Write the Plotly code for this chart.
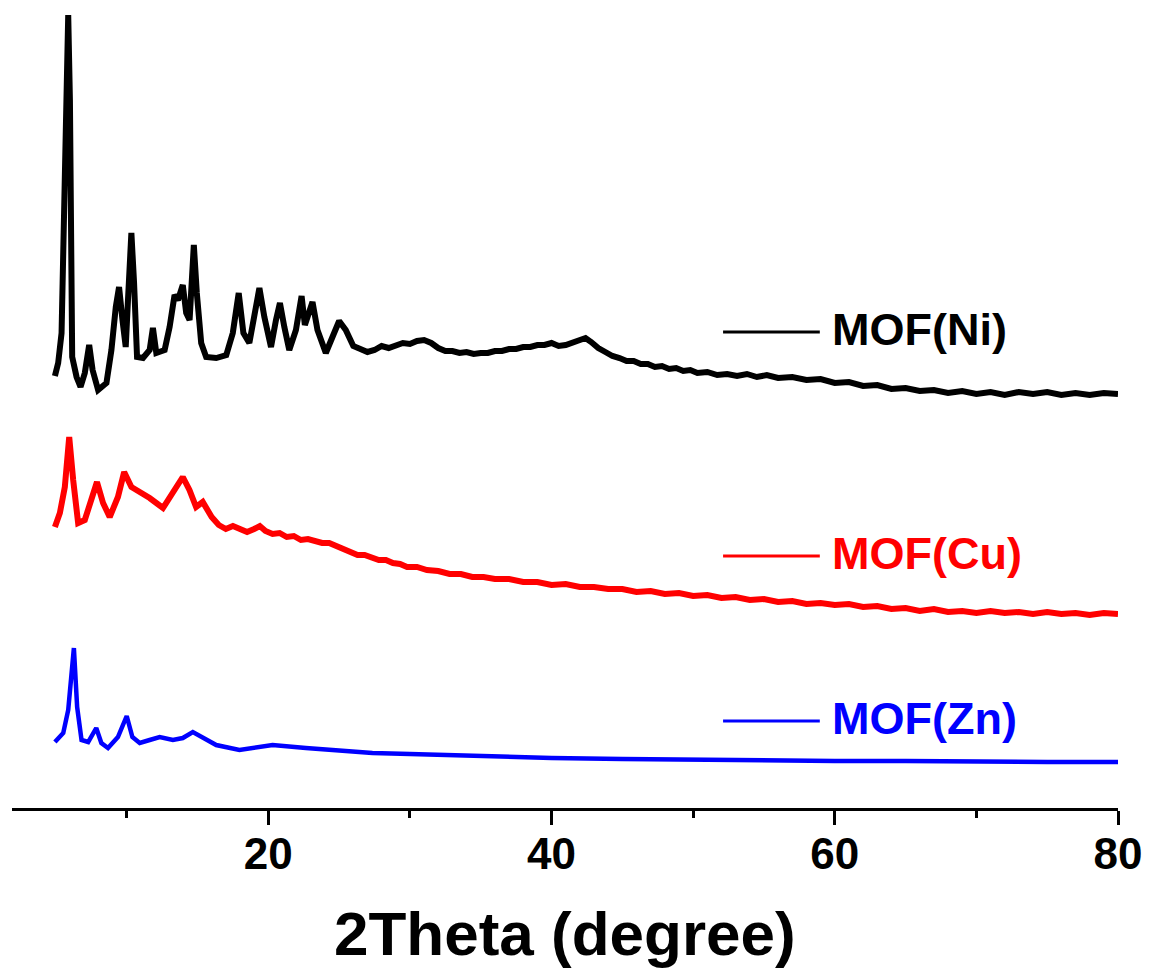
import plotly.graph_objects as go

# 2Theta (degree) and intensity (a.u., stacked for display)
ni_theta = [4.93, 5.16, 5.40, 5.51, 5.63, 5.75, 5.87, 5.99, 6.11, 6.15, 6.46, 6.74, 7.04, 7.35, 7.59, 7.98,
            8.57, 8.92, 9.23, 9.46, 9.70, 9.93, 10.09, 10.33, 10.52, 10.73, 11.15, 11.62, 11.85, 12.09,
            12.68, 13.03, 13.38, 13.62, 13.96, 14.20, 14.44, 14.74, 14.95, 15.26, 15.61, 16.32, 17.03,
            17.49, 17.91, 18.24, 18.66, 19.01, 19.37, 19.72, 20.19, 20.54, 20.82, 21.13, 21.48, 21.95,
            22.35, 22.58, 23.12, 23.47, 24.06, 24.53, 25.00, 25.47,
            26.0, 26.5, 27.0, 27.5, 28.0, 28.5, 29.0, 29.5, 30.0, 30.5, 31.0, 31.5, 32.0, 32.5, 33.0,
            33.5, 34.0, 34.5, 35.0, 35.5, 36.0, 36.5, 37.0, 37.5, 38.0, 38.5, 39.0, 39.5, 40.0, 40.5,
            41.0, 41.5, 42.0, 42.4, 42.8, 43.3, 43.8, 44.3, 44.8, 45.3, 45.8, 46.3, 46.8, 47.3, 47.8,
            48.3, 48.8, 49.3, 49.8, 50.3, 51.0, 51.7, 52.4, 53.1, 53.8, 54.5, 55.2, 56, 57, 58, 59, 60,
            61, 62, 63, 64, 65, 66, 67, 68, 69, 70, 71, 72, 73, 74, 75, 76, 77, 78, 79, 80]
ni_int = [432, 445, 475, 568, 645, 725, 793, 708, 545, 451, 431, 421, 435, 463, 438, 418,
          425, 458, 501, 521, 488, 461, 508, 575, 525, 451, 450, 458, 480, 455,
          458, 481, 513, 508, 523, 495, 488, 563, 515, 465, 451, 450, 453,
          475, 515, 475, 465, 495, 520, 491, 461, 488, 505, 481, 458, 478,
          512, 483, 506, 478, 455, 471, 487, 478,
          462, 459, 456, 458, 462, 460, 462, 465, 464, 467, 468, 465, 460, 457, 457,
          455, 456, 454, 455, 455, 457, 457, 459, 459, 461, 461, 463, 463, 465, 462,
          463, 465, 468, 470, 466, 460, 456, 452, 450, 447, 447, 444, 444, 441, 442,
          439, 440, 437, 438, 435, 436, 433, 434, 432, 434, 431, 433, 430, 431, 428, 429, 425,
          426, 422, 423, 419, 420, 417, 418, 415, 417, 414, 416, 413, 416, 414, 416, 413, 415, 413, 415, 414]

cu_theta = [4.93, 5.28, 5.63, 5.94, 6.22, 6.57, 7.04, 7.51, 7.90, 8.33, 8.80, 9.38, 9.82, 10.33, 10.92,
            11.62, 12.56, 13.26, 13.96, 14.43, 14.90, 15.37,
            16.0, 16.5, 17.0, 17.5, 18.0, 18.5, 19.0, 19.4, 19.8, 20.3, 20.8, 21.3, 21.8, 22.3, 22.8,
            23.3, 23.8, 24.3, 24.8, 25.3, 25.8, 26.3, 26.8, 27.3, 27.8, 28.3, 28.8, 29.3, 29.8, 30.5,
            31.2, 32.0, 32.8, 33.6, 34.4, 35.2, 36.0, 37, 38, 39, 40, 41, 42, 43, 44, 45, 46, 47, 48,
            49, 50, 51, 52, 53, 54, 55, 56, 57, 58, 59, 60, 61, 62, 63, 64, 65, 66, 67, 68, 69, 70,
            71, 72, 73, 74, 75, 76, 77, 78, 79, 80]
cu_int = [281, 295, 321, 371, 328, 285, 288, 308, 326, 305, 291, 311, 336, 321, 316,
          310, 300, 315, 331, 318, 301, 306,
          291, 283, 279, 282, 279, 276, 279, 282, 277, 274, 275, 271, 272, 268, 269,
          267, 265, 265, 262, 259, 256, 253, 253, 250, 248, 248, 245, 244, 241, 241,
          238, 237, 234, 234, 231, 231, 229, 229, 226, 226, 223, 224, 221, 221, 219, 219, 216, 217, 214,
          215, 212, 213, 210, 211, 208, 209, 206, 207, 204, 205, 203, 204, 201, 202, 199, 200, 197, 199, 196, 197, 195,
          197, 195, 196, 194, 196, 194, 195, 193, 195, 194]

zn_theta = [4.93, 5.52, 5.87, 6.27, 6.50, 6.81, 7.28, 7.85, 8.21, 8.68, 9.38, 10.00, 10.40, 10.92,
            11.62, 12.33, 13.26, 13.96, 14.67, 15.37, 16.32, 17.96, 20.30, 22.65, 25.00, 27.35, 30.0,
            32.00, 36.0, 40.00, 45.0, 50.00, 55.0, 60.00, 65.0, 70.0, 75.0, 80.00]
zn_int = [66, 75, 98, 160, 101, 68, 66, 80, 65, 60, 71, 92, 71, 65,
          68, 71, 68, 70, 76, 71, 63, 58, 63, 60, 58, 55, 54,
          53, 51, 50, 49, 48, 48, 47, 47, 46, 46, 46]

names = ["MOF(Ni)", "MOF(Cu)", "MOF(Zn)"]
colors = ["#000000", "#ff0000", "#0000ff"]
widths = [6, 6, 4.5]
series = [(ni_theta, ni_int), (cu_theta, cu_int), (zn_theta, zn_int)]

x_tick_vals = [20, 40, 60, 80]
x_tick_text = ["20", "40", "60", "80"]

FONT = "Liberation Sans, Arial, sans-serif"

fig = go.Figure()
for (xs, ys), n, c, w in zip(series, names, colors, widths):
    fig.add_trace(go.Scatter(x=xs, y=ys, mode="lines", name=n,
                             line=dict(color=c, width=w), showlegend=False))

W, H = 1152, 969
ml, mr, mt, mb = 12, 31, 10, 161
pw, ph = W - ml - mr, H - mt - mb

def px2paper_x(px):
    return (px - ml) / pw

def py2paper_y(py):
    return (H - mb - py) / ph

# legend-like labels (line + text)
leg_y = [332, 556, 721]
for n, c, yy in zip(names, colors, leg_y):
    fig.add_shape(type="line", xref="paper", yref="paper",
                  x0=px2paper_x(725), x1=px2paper_x(822),
                  y0=py2paper_y(yy), y1=py2paper_y(yy),
                  line=dict(color=c, width=3))
    fig.add_annotation(xref="paper", yref="paper", x=px2paper_x(832), y=py2paper_y(yy - 3),
                       text="<b>%s</b>" % n, showarrow=False, xanchor="left", yanchor="middle",
                       font=dict(family=FONT, size=45, color=c))

fig.add_annotation(xref="paper", yref="paper", x=px2paper_x(567), y=py2paper_y(933),
                   text="<b>2Theta (degree)</b>", showarrow=False, xanchor="center", yanchor="middle",
                   font=dict(family=FONT, size=62, color="#000"))

fig.update_layout(
    width=W, height=H,
    margin=dict(l=ml, r=mr, t=mt, b=mb, pad=0),
    paper_bgcolor="white", plot_bgcolor="white",
    xaxis=dict(range=[1.9, 80], showline=True, linecolor="black", linewidth=3,
               ticks="outside", ticklen=14, tickwidth=3, tickcolor="black",
               tickvals=x_tick_vals, ticktext=x_tick_text, ticklabelstandoff=-9,
               tickfont=dict(family=FONT, size=44, color="black", weight="bold"),
               minor=dict(tickvals=[10, 30, 50, 70], ticks="outside", ticklen=7, tickwidth=3, tickcolor="black"),
               showgrid=False, zeroline=False, mirror=False),
    yaxis=dict(range=[0, ph], visible=False, showgrid=False, zeroline=False),
)

fig.write_html("out.html", config={"displayModeBar": False},
               post_script="document.body.style.margin='0';document.body.style.overflow='hidden';")
